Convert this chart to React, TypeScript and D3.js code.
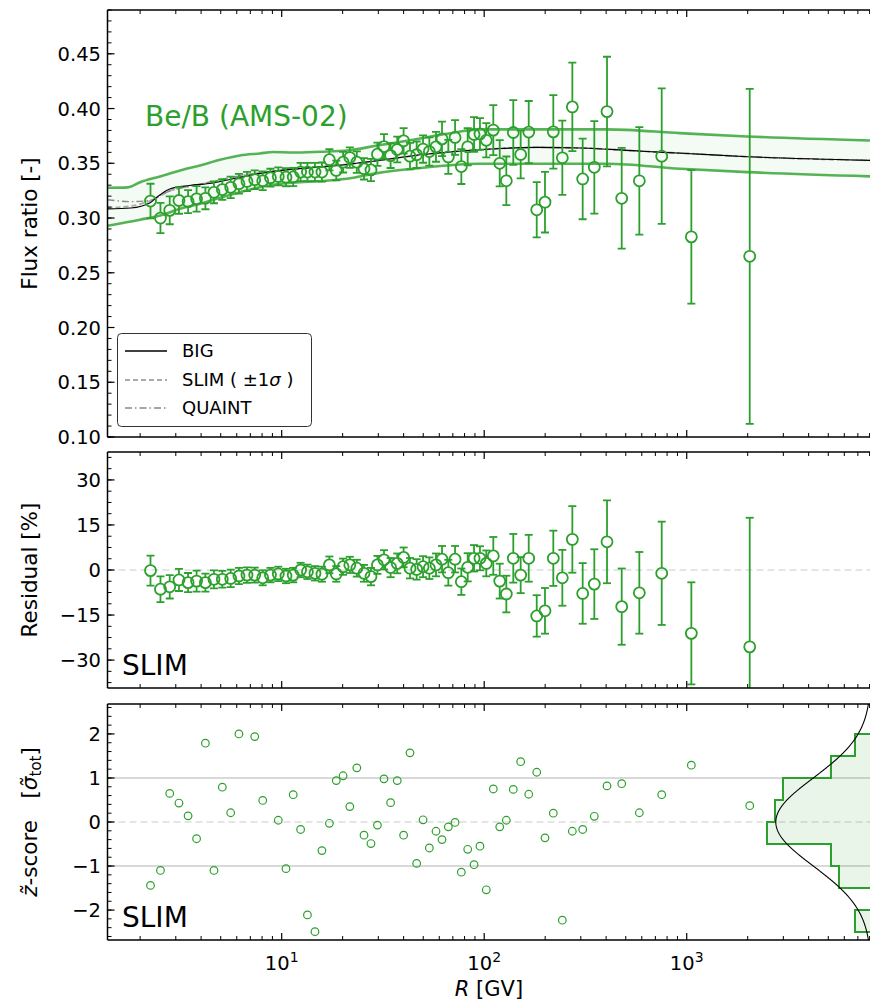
import React from 'react';
import * as d3 from 'd3';

// ---------------- data ----------------
const rigidity = [2.25, 2.52, 2.80, 3.11, 3.45, 3.80, 4.20, 4.63, 5.09, 5.60, 6.15, 6.74, 7.36, 8.06, 8.80, 9.62, 10.5, 11.4, 12.4, 13.4, 14.6, 15.8, 17.2, 18.6, 20.1, 21.7, 23.5, 25.5, 27.6, 29.7, 32.0, 34.5, 37.2, 40.0, 43.0, 46.4, 49.9, 53.6, 57.8, 61.9, 66.5, 71.8, 77.1, 82.9, 89.1, 95.3, 102.4, 110.9, 119.3, 128.6, 139.2, 151.4, 165.9, 181.7, 199.6, 219.4, 243.1, 272.4, 306.4, 349.7, 404, 477.5, 583.5, 752.5, 1054, 2047];

const ratio = [0.3155, 0.300, 0.307, 0.316, 0.315, 0.3175, 0.318, 0.3235, 0.326, 0.328, 0.3313, 0.3334, 0.335, 0.334, 0.3368, 0.338, 0.3373, 0.3375, 0.342, 0.342, 0.342, 0.342, 0.3533, 0.3435, 0.351, 0.3552, 0.351, 0.345, 0.3439, 0.3583, 0.3653, 0.357, 0.3626, 0.3705, 0.3565, 0.3578, 0.363, 0.3607, 0.365, 0.3723, 0.3558, 0.3736, 0.347, 0.365, 0.3763, 0.3768, 0.371, 0.3803, 0.350, 0.334, 0.3781, 0.358, 0.3785, 0.3075, 0.3145, 0.3787, 0.355, 0.4015, 0.3357, 0.3463, 0.3972, 0.318, 0.334, 0.3565, 0.2828, 0.265];

const ratioErr = [0.0158, 0.0138, 0.0127, 0.0121, 0.0105, 0.0116, 0.0100, 0.0100, 0.0094, 0.0098, 0.0091, 0.0088, 0.0085, 0.0085, 0.0082, 0.0082, 0.0083, 0.0083, 0.0083, 0.0083, 0.0083, 0.0087, 0.0097, 0.0090, 0.0094, 0.0094, 0.0098, 0.0098, 0.0102, 0.0106, 0.0113, 0.0113, 0.0117, 0.0117, 0.0121, 0.0121, 0.0125, 0.0129, 0.0136, 0.0158, 0.0155, 0.0159, 0.0159, 0.0170, 0.0159, 0.0145, 0.0156, 0.0229, 0.0211, 0.0222, 0.0295, 0.0218, 0.0284, 0.0252, 0.0277, 0.0335, 0.0339, 0.0404, 0.0368, 0.0422, 0.0501, 0.0460, 0.0491, 0.0619, 0.0610, 0.153];

const residual = [-0.2, -6.4, -5.6, -3.3, -4.2, -3.7, -4.2, -3.1, -3.1, -2.8, -2.0, -1.7, -1.7, -2.6, -1.7, -1.3, -2.0, -1.7, 0.0, -0.6, -1.1, -1.4, 1.7, -1.3, 1.1, 1.7, 0.6, -1.1, -2.2, 1.7, 3.4, 0.8, 2.2, 4.2, 0.6, 0.2, 1.1, 0.6, 1.7, 3.6, -0.9, 3.6, -3.9, 0.9, 3.9, 3.9, 2.2, 4.7, -3.7, -8.0, 3.9, -1.7, 3.9, -15.3, -13.6, 3.9, -2.6, 10.2, -7.8, -4.7, 9.4, -12.2, -7.6, -1.1, -21.1, -25.6];

const residualErr = [5.0, 4.3, 3.9, 3.7, 3.2, 3.5, 3.0, 3.0, 2.8, 2.9, 2.7, 2.6, 2.5, 2.5, 2.4, 2.4, 2.4, 2.4, 2.4, 2.4, 2.4, 2.5, 2.8, 2.6, 2.7, 2.7, 2.8, 2.8, 2.9, 3.0, 3.2, 3.2, 3.3, 3.3, 3.4, 3.4, 3.5, 3.6, 3.8, 4.4, 4.3, 4.4, 4.4, 4.7, 4.4, 4.0, 4.3, 6.3, 5.8, 6.1, 8.1, 6.0, 7.8, 6.9, 7.6, 9.2, 9.3, 11.1, 10.1, 11.6, 13.8, 12.7, 13.6, 17.2, 17.0, 43.0];

// null = outside the visible z-score range
const zScore: (number | null)[] = [-1.44, -1.10, 0.65, 0.43, 0.14, -0.38, 1.79, -1.10, 0.79, 0.21, 2.00, null, 1.94, 0.49, null, 0.04, -1.06, 0.62, -0.17, -2.11, -2.49, -0.65, -0.03, 0.94, 1.05, 0.35, 1.23, -0.30, -0.49, -0.07, 0.98, 0.44, 0.94, -0.30, 1.57, -0.94, 0.05, -0.59, -0.21, -0.40, -0.11, -0.01, -1.14, -0.62, -0.97, -0.55, -1.54, 0.75, -0.11, 0.04, 0.74, 1.37, 0.63, 1.13, -0.36, 0.20, -2.23, -0.21, -0.17, 0.13, 0.82, 0.87, 0.21, 0.62, 1.29, 0.37];

// model curves
const modelR = [1.38, 1.8, 2.24, 2.5, 2.8, 3.5, 4.5, 6, 8, 10, 14, 20, 30, 50, 80, 120, 180, 300, 600, 1000, 2000, 8128];
const bigModel = [0.3084, 0.3092, 0.3140, 0.3210, 0.3265, 0.3297, 0.3318, 0.3365, 0.3410, 0.3435, 0.3460, 0.3485, 0.3525, 0.3580, 0.3615, 0.3635, 0.3645, 0.3640, 0.3610, 0.3590, 0.3560, 0.3526];
const slimModel = [0.3095, 0.3110, 0.3158, 0.3200, 0.3248, 0.3290, 0.3330, 0.3380, 0.3415, 0.3435, 0.3460, 0.3485, 0.3525, 0.3580, 0.3615, 0.3635, 0.3645, 0.3640, 0.3610, 0.3590, 0.3560, 0.3526];
const quaintModel = [0.3167, 0.3150, 0.3160, 0.3205, 0.3245, 0.3290, 0.3330, 0.3380, 0.3415, 0.3435, 0.3460, 0.3485, 0.3525, 0.3580, 0.3615, 0.3635, 0.3645, 0.3640, 0.3610, 0.3590, 0.3560, 0.3526];

const bandUpperR = [1.38, 1.74, 2.0, 2.51, 3.15, 3.95, 4.96, 6.22, 7.80, 9.06, 11.4, 15.5, 21.0, 29.6, 44.5, 65.5, 95.3, 404, 927, 1986, 8128];
const bandUpper = [0.3276, 0.3280, 0.3327, 0.3380, 0.3434, 0.3480, 0.3532, 0.3571, 0.3590, 0.3603, 0.3598, 0.3606, 0.3617, 0.3662, 0.3715, 0.3770, 0.3810, 0.3810, 0.3775, 0.3745, 0.3708];
const bandLowerR = [1.38, 2.0, 2.51, 3.15, 3.95, 4.96, 6.22, 7.80, 9.81, 12.3, 15.5, 21.0, 29.6, 44.5, 65.5, 95.3, 404, 927, 1986, 8128];
const bandLower = [0.2930, 0.2985, 0.3023, 0.3084, 0.3130, 0.3185, 0.3236, 0.3282, 0.3313, 0.3327, 0.3336, 0.3358, 0.3410, 0.3450, 0.3480, 0.3496, 0.3496, 0.3450, 0.3419, 0.3380];

// z-score histogram (horizontal, counts per bin)
const histEdges = [-2.5, -2, -1.5, -1, -0.5, 0, 0.5, 1, 1.5, 2, 2.5];
const histCounts = [2, 0, 4, 5, 13, 12, 11, 5, 2, 0];
const gaussAmplitude = 11.9; // peak of the reference normal curve, in counts

const topTicks = [0.10, 0.15, 0.20, 0.25, 0.30, 0.35, 0.40, 0.45];
const midTicks = [-30, -15, 0, 15, 30];
const botTicks = [-2, -1, 0, 1, 2];
const xLabelDecades = [1, 2, 3];

// ---------------- layout ----------------
const W = 870, H = 1001;
const XL = 107.5, XR = 871;
const P1 = { top: 10, bottom: 437 };
const P2 = { top: 452, bottom: 688 };
const P3 = { top: 704, bottom: 940 };
const GREEN = '#2ca02c';
const FONT = 'DejaVu Sans, sans-serif';
const TICK_FS = 19.5;
const LABEL_FS = 21.5;

const x = d3.scaleLog().domain([1.38, 8128]).range([XL, XR]);
const y1 = d3.scaleLinear().domain([0.10, 0.49]).range([P1.bottom, P1.top]);
const y2 = d3.scaleLinear().domain([-39.3, 39.3]).range([P2.bottom, P2.top]);
const y3 = d3.scaleLinear().domain([-2.68, 2.68]).range([P3.bottom, P3.top]);
const hx = d3.scaleLinear().domain([0, 1]).range([XR, XR - 8]);

const minorX: number[] = [];
for (let e = 0; e <= 4; e++) for (let m = 1; m <= 9; m++) {
  const v = m * Math.pow(10, e);
  if (v >= 1.38 && v <= 8128) minorX.push(v);
}

function XTicks({ top, bottom }: { top: number; bottom: number }) {
  return (
    <g stroke="#000">
      {minorX.map((v, i) => {
        const major = Math.abs(Math.log10(v) - Math.round(Math.log10(v))) < 1e-9;
        const L = major ? 7 : 4;
        const xx = x(v);
        return (
          <g key={i} strokeWidth={major ? 1.2 : 1}>
            <line x1={xx} x2={xx} y1={bottom} y2={bottom - L} />
            <line x1={xx} x2={xx} y1={top} y2={top + L} />
          </g>
        );
      })}
    </g>
  );
}

function YTicks({ scale, major, minorStep, fmt }: { scale: any; major: number[]; minorStep: number; fmt: (v: number) => string }) {
  const [d0, d1] = scale.domain();
  const minors: number[] = [];
  const start = Math.ceil((d0 - 1e-9) / minorStep);
  for (let k = start; k * minorStep <= d1 + 1e-9; k++) minors.push(k * minorStep);
  return (
    <g>
      {minors.map((v, i) => (
        <line key={'m' + i} x1={XL} x2={XL + 4} y1={scale(v)} y2={scale(v)} stroke="#000" strokeWidth={1} />
      ))}
      {major.map((v, i) => (
        <g key={'M' + i}>
          <line x1={XL} x2={XL + 7} y1={scale(v)} y2={scale(v)} stroke="#000" strokeWidth={1.2} />
          <text x={XL - 6.5} y={scale(v)} dy="0.36em" textAnchor="end" fontSize={TICK_FS} fontFamily={FONT}>{fmt(v)}</text>
        </g>
      ))}
    </g>
  );
}

function Spines({ top, bottom }: { top: number; bottom: number }) {
  return (
    <g stroke="#000" strokeWidth={1.5} fill="none">
      <line x1={XL} x2={XR + 2} y1={top} y2={top} />
      <line x1={XL} x2={XR + 2} y1={bottom} y2={bottom} />
      <line x1={XL} x2={XL} y1={top} y2={bottom} />
    </g>
  );
}

const minusFmt = (v: number) => (v < 0 ? '\u2212' + Math.abs(v) : String(v));

export default function App() {
  const idx = rigidity.map((_, i) => i);

  const lineTop = d3.line<number>().x((_, i) => x(modelR[i])).y((d) => y1(d)).curve(d3.curveMonotoneX);
  const upperPts = bandUpperR.map((r, i) => [x(r), y1(bandUpper[i])] as [number, number]);
  const lowerPts = bandLowerR.map((r, i) => [x(r), y1(bandLower[i])] as [number, number]);
  const ptLine = d3.line<[number, number]>().curve(d3.curveMonotoneX);
  const upperPath = ptLine(upperPts) as string;
  const lowerPath = ptLine(lowerPts) as string;
  const lowerRev = ptLine([...lowerPts].reverse()) as string;
  const bandArea = upperPath + 'L' + lowerRev.slice(1) + 'Z';

  // histogram outline
  const hPts: [number, number][] = [[hx(0), y3(histEdges[0])]];
  histCounts.forEach((c, i) => {
    hPts.push([hx(c), y3(histEdges[i])]);
    hPts.push([hx(c), y3(histEdges[i + 1])]);
  });
  hPts.push([hx(0), y3(histEdges[histEdges.length - 1])]);
  const histPath = 'M' + hPts.map(p => p.join(',')).join('L');

  const zs = d3.range(-2.68, 2.69, 0.02);
  const gaussPath = d3.line<number>().x(z => hx(gaussAmplitude * Math.exp(-z * z / 2))).y(z => y3(z))(zs) as string;

  const cap = 4;

  return (
    <svg width={W} height={H} style={{ position: 'absolute', left: 0, top: 0, background: '#fff' }} fontFamily={FONT}>
      <defs>
        <clipPath id="c1"><rect x={XL} y={P1.top} width={XR - XL} height={P1.bottom - P1.top} /></clipPath>
        <clipPath id="c2"><rect x={XL} y={P2.top} width={XR - XL} height={P2.bottom - P2.top} /></clipPath>
        <clipPath id="c3"><rect x={XL} y={P3.top} width={XR - XL} height={P3.bottom - P3.top} /></clipPath>
      </defs>
      <rect x={0} y={0} width={W} height={H} fill="#fff" />

      {/* ---------- top panel ---------- */}
      <g clipPath="url(#c1)">
        <path d={bandArea} fill={GREEN} fillOpacity={0.05} stroke="none" />
        <path d={upperPath} fill="none" stroke={GREEN} strokeOpacity={0.8} strokeWidth={2.6} />
        <path d={lowerPath} fill="none" stroke={GREEN} strokeOpacity={0.8} strokeWidth={2.6} />
        <path d={lineTop(slimModel) as string} fill="none" stroke="#aaaaaa" strokeWidth={1.8} strokeDasharray="5,3" />
        <path d={lineTop(quaintModel) as string} fill="none" stroke="#888888" strokeWidth={1.4} strokeDasharray="7,3,1.5,3" />
        <path d={lineTop(bigModel) as string} fill="none" stroke="#000" strokeWidth={1.1} />
        {idx.map(i => {
          const xx = x(rigidity[i]);
          const yc = y1(ratio[i]);
          const ya = y1(ratio[i] + ratioErr[i]);
          const yb = y1(ratio[i] - ratioErr[i]);
          return (
            <g key={i} stroke={GREEN} strokeWidth={1.8} fill="none">
              <line x1={xx} x2={xx} y1={ya} y2={yc - 5.5} />
              <line x1={xx} x2={xx} y1={yc + 5.5} y2={yb} />
              <line x1={xx - cap} x2={xx + cap} y1={ya} y2={ya} />
              <line x1={xx - cap} x2={xx + cap} y1={yb} y2={yb} />
              <circle cx={xx} cy={yc} r={5.5} />
            </g>
          );
        })}
      </g>
      <text x={145} y={126} fontSize={28} fill={GREEN}>Be/B (AMS-02)</text>
      <XTicks top={P1.top} bottom={P1.bottom} />
      <YTicks scale={y1} major={topTicks} minorStep={0.01} fmt={v => v.toFixed(2)} />
      <Spines top={P1.top} bottom={P1.bottom} />
      <text transform={`translate(37,${(P1.top + P1.bottom) / 2}) rotate(-90)`} textAnchor="middle" fontSize={LABEL_FS}>Flux ratio [-]</text>

      {/* legend */}
      <g>
        <rect x={117.5} y={333.5} width={194} height={93} rx={4} fill="#fff" fillOpacity={0.9} stroke="#333" strokeWidth={1} />
        <line x1={125} x2={167} y1={351} y2={351} stroke="#000" strokeWidth={1.3} />
        <line x1={125} x2={167} y1={380} y2={380} stroke="#aaaaaa" strokeWidth={1.8} strokeDasharray="5,3" />
        <line x1={125} x2={167} y1={408} y2={408} stroke="#888888" strokeWidth={1.4} strokeDasharray="7,3,1.5,3" />
        <text x={182} y={351} dy="0.36em" fontSize={18}>BIG</text>
        <text x={182} y={380} dy="0.36em" fontSize={18}>SLIM ( ±1<tspan fontStyle="italic">σ</tspan> )</text>
        <text x={182} y={408} dy="0.36em" fontSize={18}>QUAINT</text>
      </g>

      {/* ---------- middle panel ---------- */}
      <line x1={XL} x2={XR} y1={y2(0)} y2={y2(0)} stroke="#dddddd" strokeWidth={1.5} strokeDasharray="7,4" />
      <g clipPath="url(#c2)">
        {idx.map(i => {
          const xx = x(rigidity[i]);
          const yc = y2(residual[i]);
          const ya = y2(residual[i] + residualErr[i]);
          const yb = y2(residual[i] - residualErr[i]);
          return (
            <g key={i} stroke={GREEN} strokeWidth={1.8} fill="none">
              <line x1={xx} x2={xx} y1={ya} y2={yc - 5.5} />
              <line x1={xx} x2={xx} y1={yc + 5.5} y2={yb} />
              <line x1={xx - cap} x2={xx + cap} y1={ya} y2={ya} />
              <line x1={xx - cap} x2={xx + cap} y1={yb} y2={yb} />
              <circle cx={xx} cy={yc} r={5.5} />
            </g>
          );
        })}
      </g>
      <text x={122} y={675} fontSize={28}>SLIM</text>
      <XTicks top={P2.top} bottom={P2.bottom} />
      <YTicks scale={y2} major={midTicks} minorStep={3.75} fmt={minusFmt} />
      <Spines top={P2.top} bottom={P2.bottom} />
      <text transform={`translate(37,${(P2.top + P2.bottom) / 2}) rotate(-90)`} textAnchor="middle" fontSize={LABEL_FS}>Residual [%]</text>

      {/* ---------- bottom panel ---------- */}
      <g clipPath="url(#c3)">
        <line x1={XL} x2={XR} y1={y3(1)} y2={y3(1)} stroke="#cccccc" strokeWidth={1.5} />
        <line x1={XL} x2={XR} y1={y3(-1)} y2={y3(-1)} stroke="#cccccc" strokeWidth={1.5} />
        <line x1={XL} x2={XR} y1={y3(0)} y2={y3(0)} stroke="#dddddd" strokeWidth={1.5} strokeDasharray="7,4" />
        <path d={histPath} fill={GREEN} fillOpacity={0.1} stroke={GREEN} strokeWidth={2} />
        <path d={gaussPath} fill="none" stroke="#000" strokeWidth={1.1} />
        {idx.map(i => zScore[i] === null ? null : (
          <circle key={i} cx={x(rigidity[i])} cy={y3(zScore[i] as number)} r={3.8} fill="none" stroke={GREEN} strokeWidth={1.2} />
        ))}
      </g>
      <text x={122} y={927} fontSize={28}>SLIM</text>
      <XTicks top={P3.top} bottom={P3.bottom} />
      <YTicks scale={y3} major={botTicks} minorStep={0.2} fmt={minusFmt} />
      <Spines top={P3.top} bottom={P3.bottom} />
      <text transform={`translate(37,${(P3.top + P3.bottom) / 2}) rotate(-90)`} textAnchor="middle" fontSize={LABEL_FS}>
        <tspan fontStyle="italic">z&#x303;</tspan>-score{'\u2003'}[<tspan fontStyle="italic">σ&#x303;</tspan><tspan fontSize={15} dy={4}>tot</tspan><tspan dy={-4}>]</tspan>
      </text>

      {/* x tick labels */}
      {xLabelDecades.map(e => (
        <text key={e} x={x(Math.pow(10, e))} y={970} textAnchor="middle" fontSize={TICK_FS}>
          10<tspan fontSize={14} dy={-8}>{e}</tspan>
        </text>
      ))}
      <text x={489} y={995.5} textAnchor="middle" fontSize={21}>
        <tspan fontStyle="italic">R</tspan> [GV]
      </text>
    </svg>
  );
}
